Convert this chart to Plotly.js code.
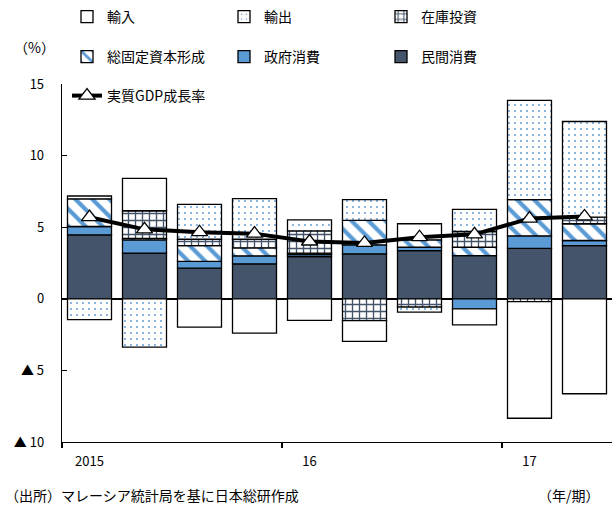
<!DOCTYPE html>
<html>
<head>
<meta charset="utf-8">
<script src="https://cdn.plot.ly/plotly-3.0.1.min.js"></script>
<style>html,body{margin:0;padding:0;background:#fff;}#chart{width:612px;height:506px;}</style>
</head>
<body>
<div id="chart"></div>
<script>
const quarters = ['2015Q1','2015Q2','2015Q3','2015Q4','2016Q1','2016Q2','2016Q3','2016Q4','2017Q1','2017Q2'];
const yearTickCats = ['2015Q1','2016Q1','2017Q1'];
const yearTickText = ['2015','16','17'];
const yTickVals = [-10,-5,0,5,10,15];
const yTickText = ['▲ 10','▲ 5','0','5','10','15'];

const privateCons = [4.47, 3.19, 2.14, 2.44, 2.95, 3.14, 3.37, 3.02, 3.52, 3.72];
const govCons     = [0.58, 0.93, 0.47, 0.56, 0.14, 0.63, 0.23, -0.70, 0.88, 0.35];
const gfcf        = [1.93, 0.10, 1.10, 0.56, 0.10, 1.70, 0.52, 0.58, 2.53, 1.17];
const inventory   = [null, 1.93, 0.45, 0.60, 1.55, -1.52, -0.58, 1.10, -0.20, 0.46];
const exportsC    = [-1.45, -3.38, 2.44, 2.84, 0.77, 1.46, -0.35, 1.54, 6.92, 6.68];
const importsC    = [0.20, 2.26, -1.98, -2.40, -1.50, -1.46, 1.12, -1.12, -8.14, -6.63];
const gdpGrowth   = [5.7, 4.85, 4.65, 4.55, 4.0, 3.9, 4.3, 4.5, 5.6, 5.75];

const FONT = '"Noto Sans CJK JP", "Noto Sans", sans-serif';
const BLUE = '#5b9bd5';
const SLATE = '#44546a';
const edge = {color: '#000', width: 1.3};

function bar(name, y, marker, legend, rank) {
  return {type: 'bar', name: name, x: quarters, y: y, legend: legend, legendrank: rank,
          marker: Object.assign({line: edge}, marker), hoverinfo: 'skip'};
}

const traces = [
  bar('民間消費', privateCons, {color: SLATE}, 'legend2', 6),
  bar('政府消費', govCons, {color: BLUE}, 'legend2', 5),
  bar('総固定資本形成', gfcf, {color: '#fff', pattern: {shape: '\\', fgcolor: BLUE, bgcolor: '#fff', size: 12, solidity: 0.35, fillmode: 'replace'}}, 'legend2', 4),
  bar('在庫投資', inventory, {color: '#fff', pattern: {shape: '+', fgcolor: SLATE, bgcolor: '#fff', size: 7, solidity: 0.35, fillmode: 'replace'}}, 'legend', 3),
  bar('輸出', exportsC, {color: '#fff', pattern: {shape: '.', fgcolor: BLUE, bgcolor: '#fff', size: 6, solidity: 0.08, fillmode: 'replace'}}, 'legend', 2),
  bar('輸入', importsC, {color: '#fff'}, 'legend', 1),
  {type: 'scatter', mode: 'lines+markers', name: '実質GDP成長率', x: quarters, y: gdpGrowth, legend: 'legend3',
   line: {color: '#000', width: 4},
   marker: {symbol: 'triangle-up', size: 14, color: '#fff', line: {color: '#000', width: 1.3}}, hoverinfo: 'skip'}
];

const legendBase = {orientation: 'h', xref: 'container', yref: 'container', xanchor: 'left', yanchor: 'middle',
  entrywidth: 112, entrywidthmode: 'pixels', itemwidth: 30, font: {family: FONT, size: 14, color: '#000'},
  bgcolor: 'rgba(0,0,0,0)', traceorder: 'normal'};

const layout = {
  width: 612, height: 506,
  margin: {l: 62, r: 0, t: 84, b: 64, pad: 0, autoexpand: false},
  paper_bgcolor: '#fff', plot_bgcolor: '#fff',
  barmode: 'relative', bargap: 0.2,
  showlegend: true,
  font: {family: FONT, size: 13, color: '#000'},
  legend: Object.assign({}, legendBase, {x: 67/612, y: 1 - 17/506}),
  legend2: Object.assign({}, legendBase, {x: 67/612, y: 1 - 57/506}),
  legend3: Object.assign({}, legendBase, {x: 67/612, y: 1 - 96/506}),
  xaxis: {type: 'category', categoryorder: 'array', categoryarray: quarters, range: [-0.5, 9.5],
          tickmode: 'array', tickvals: yearTickCats, ticktext: yearTickText, ticks: '',
          showline: false, showgrid: false, zeroline: false, tickfont: {family: FONT, size: 13},
          ticklabelstandoff: 10, fixedrange: true},
  xaxis2: {overlaying: 'x', anchor: 'y', side: 'bottom', range: [-0.5, 9.5], tickmode: 'array',
           tickvals: [-0.5, 3.5, 7.5], showticklabels: false, ticks: 'outside', ticklen: 5, tickwidth: 1.3,
           tickcolor: '#000', showline: true, linecolor: '#000', linewidth: 1.3, showgrid: false, zeroline: false,
           layer: 'above traces'},
  yaxis: {range: [-10, 15], tickmode: 'array', tickvals: yTickVals, ticktext: yTickText,
          ticks: 'inside', ticklen: 5, tickwidth: 1.3, tickcolor: '#000', showline: true, linecolor: '#000', linewidth: 1.3,
          showgrid: false, zeroline: true, zerolinecolor: '#000', zerolinewidth: 2.5,
          tickfont: {family: FONT, size: 13}, ticklabelstandoff: 14, layer: 'above traces', fixedrange: true},
  annotations: [
    {text: '（%）', xref: 'paper', yref: 'paper', x: -28/550, y: 1 + 37/358, xanchor: 'center', yanchor: 'middle', showarrow: false, font: {family: FONT, size: 14}},
    {text: '（出所）マレーシア統計局を基に日本総研作成', xref: 'paper', yref: 'paper', x: -59/550, y: -53/358, xanchor: 'left', yanchor: 'middle', showarrow: false, font: {family: FONT, size: 14}},
    {text: '（年/期）', xref: 'paper', yref: 'paper', x: 474/550, y: -53/358, xanchor: 'left', yanchor: 'middle', showarrow: false, font: {family: FONT, size: 14}}
  ]
};

// empty trace so the boundary-tick axis is drawn
traces.push({type: 'scatter', x: [], y: [], xaxis: 'x2', yaxis: 'y', showlegend: false, hoverinfo: 'skip'});

Plotly.newPlot('chart', traces, layout, {staticPlot: true, displayModeBar: false});
</script>
</body>
</html>
